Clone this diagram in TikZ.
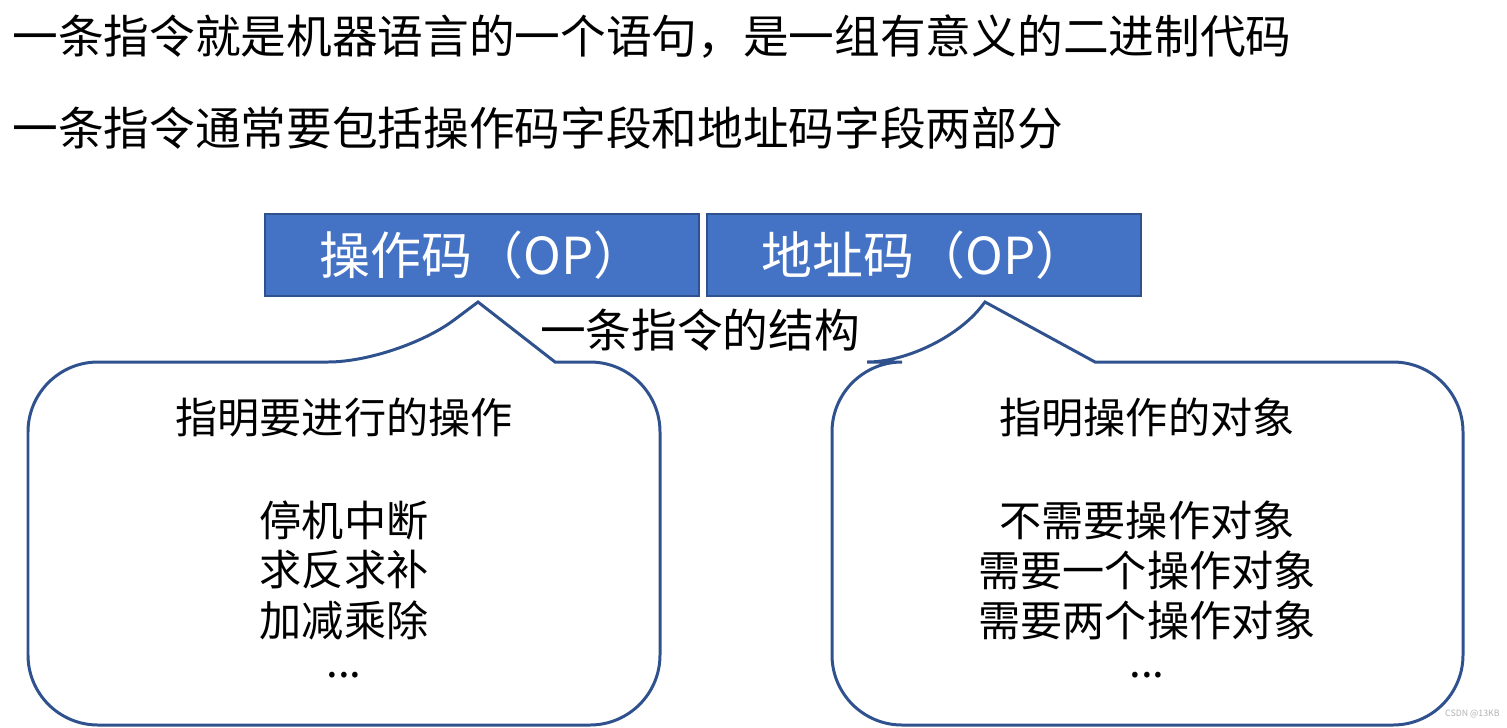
\documentclass[tikz,border=0pt]{standalone}
\usepackage{fontspec}
\setmainfont{Noto Sans CJK SC}
\usetikzlibrary{positioning}
\definecolor{boxblue}{HTML}{4472C4}
\definecolor{edgeblue}{HTML}{2F528F}

\begin{document}
\begin{tikzpicture}[x=0.02cm,y=-0.02cm,
      line/.style={anchor=west,inner sep=0pt,font=\fontsize{26}{30}\selectfont},
      field/.style={draw=edgeblue,fill=boxblue,line width=1pt,text=white,
         minimum width=8.68cm,minimum height=1.64cm,anchor=north west,
         font=\fontsize{29}{34}\selectfont},
      bubble/.style={draw=edgeblue,line width=1.7pt,rounded corners=1.4cm},
      say/.style={inner sep=0pt,font=\fontsize{24}{28}\selectfont}]
  \useasboundingbox (0,0) rectangle (1507,727);

  \node [line] at (12,37) (def) {一条指令就是机器语言的一个语句，是一组有意义的二进制代码};
  \node [line] at (12,128) (part) {一条指令通常要包括操作码字段和地址码字段两部分};

  \node [field] at (264,213) (op) {操作码（OP）};
  \node [field] at (706,213) (addr) {地址码（OP）};
  \node [say,font=\fontsize{26}{30}\selectfont] at (700,330) (struct) {一条指令的结构};

  % left callout
  \draw [bubble] (555,362) -- (660,362) -- (660,725) -- (28,725) -- (28,362)
     -- (398,362) [sharp corners] -- (478,302) -- (555,362) -- cycle;
  \node [say] at (344,418) (opt) {指明要进行的操作};
  \node [say] at (344,520) (o1) {停机中断};
  \node [say] at (344,570) (o2) {求反求补};
  \node [say] at (344,620) (o3) {加减乘除};
  \node [say] at (344,675) (o4) {...};

  % right callout
  \draw [bubble] (1095,362) -- (1463,362) -- (1463,725) -- (832,725) -- (832,362)
     -- (937,362) [sharp corners] -- (985,302) -- (1095,362) -- cycle;
  \node [say] at (1147,418) (objt) {指明操作的对象};
  \node [say] at (1147,520) (a1) {不需要操作对象};
  \node [say] at (1147,570) (a2) {需要一个操作对象};
  \node [say] at (1147,620) (a3) {需要两个操作对象};
  \node [say] at (1147,675) (a4) {...};

  \node [inner sep=0pt,text=gray!60,font=\fontsize{5}{6}\selectfont,anchor=east] at (1500,714) (mark) {CSDN @13KB};
\end{tikzpicture}
\end{document}
